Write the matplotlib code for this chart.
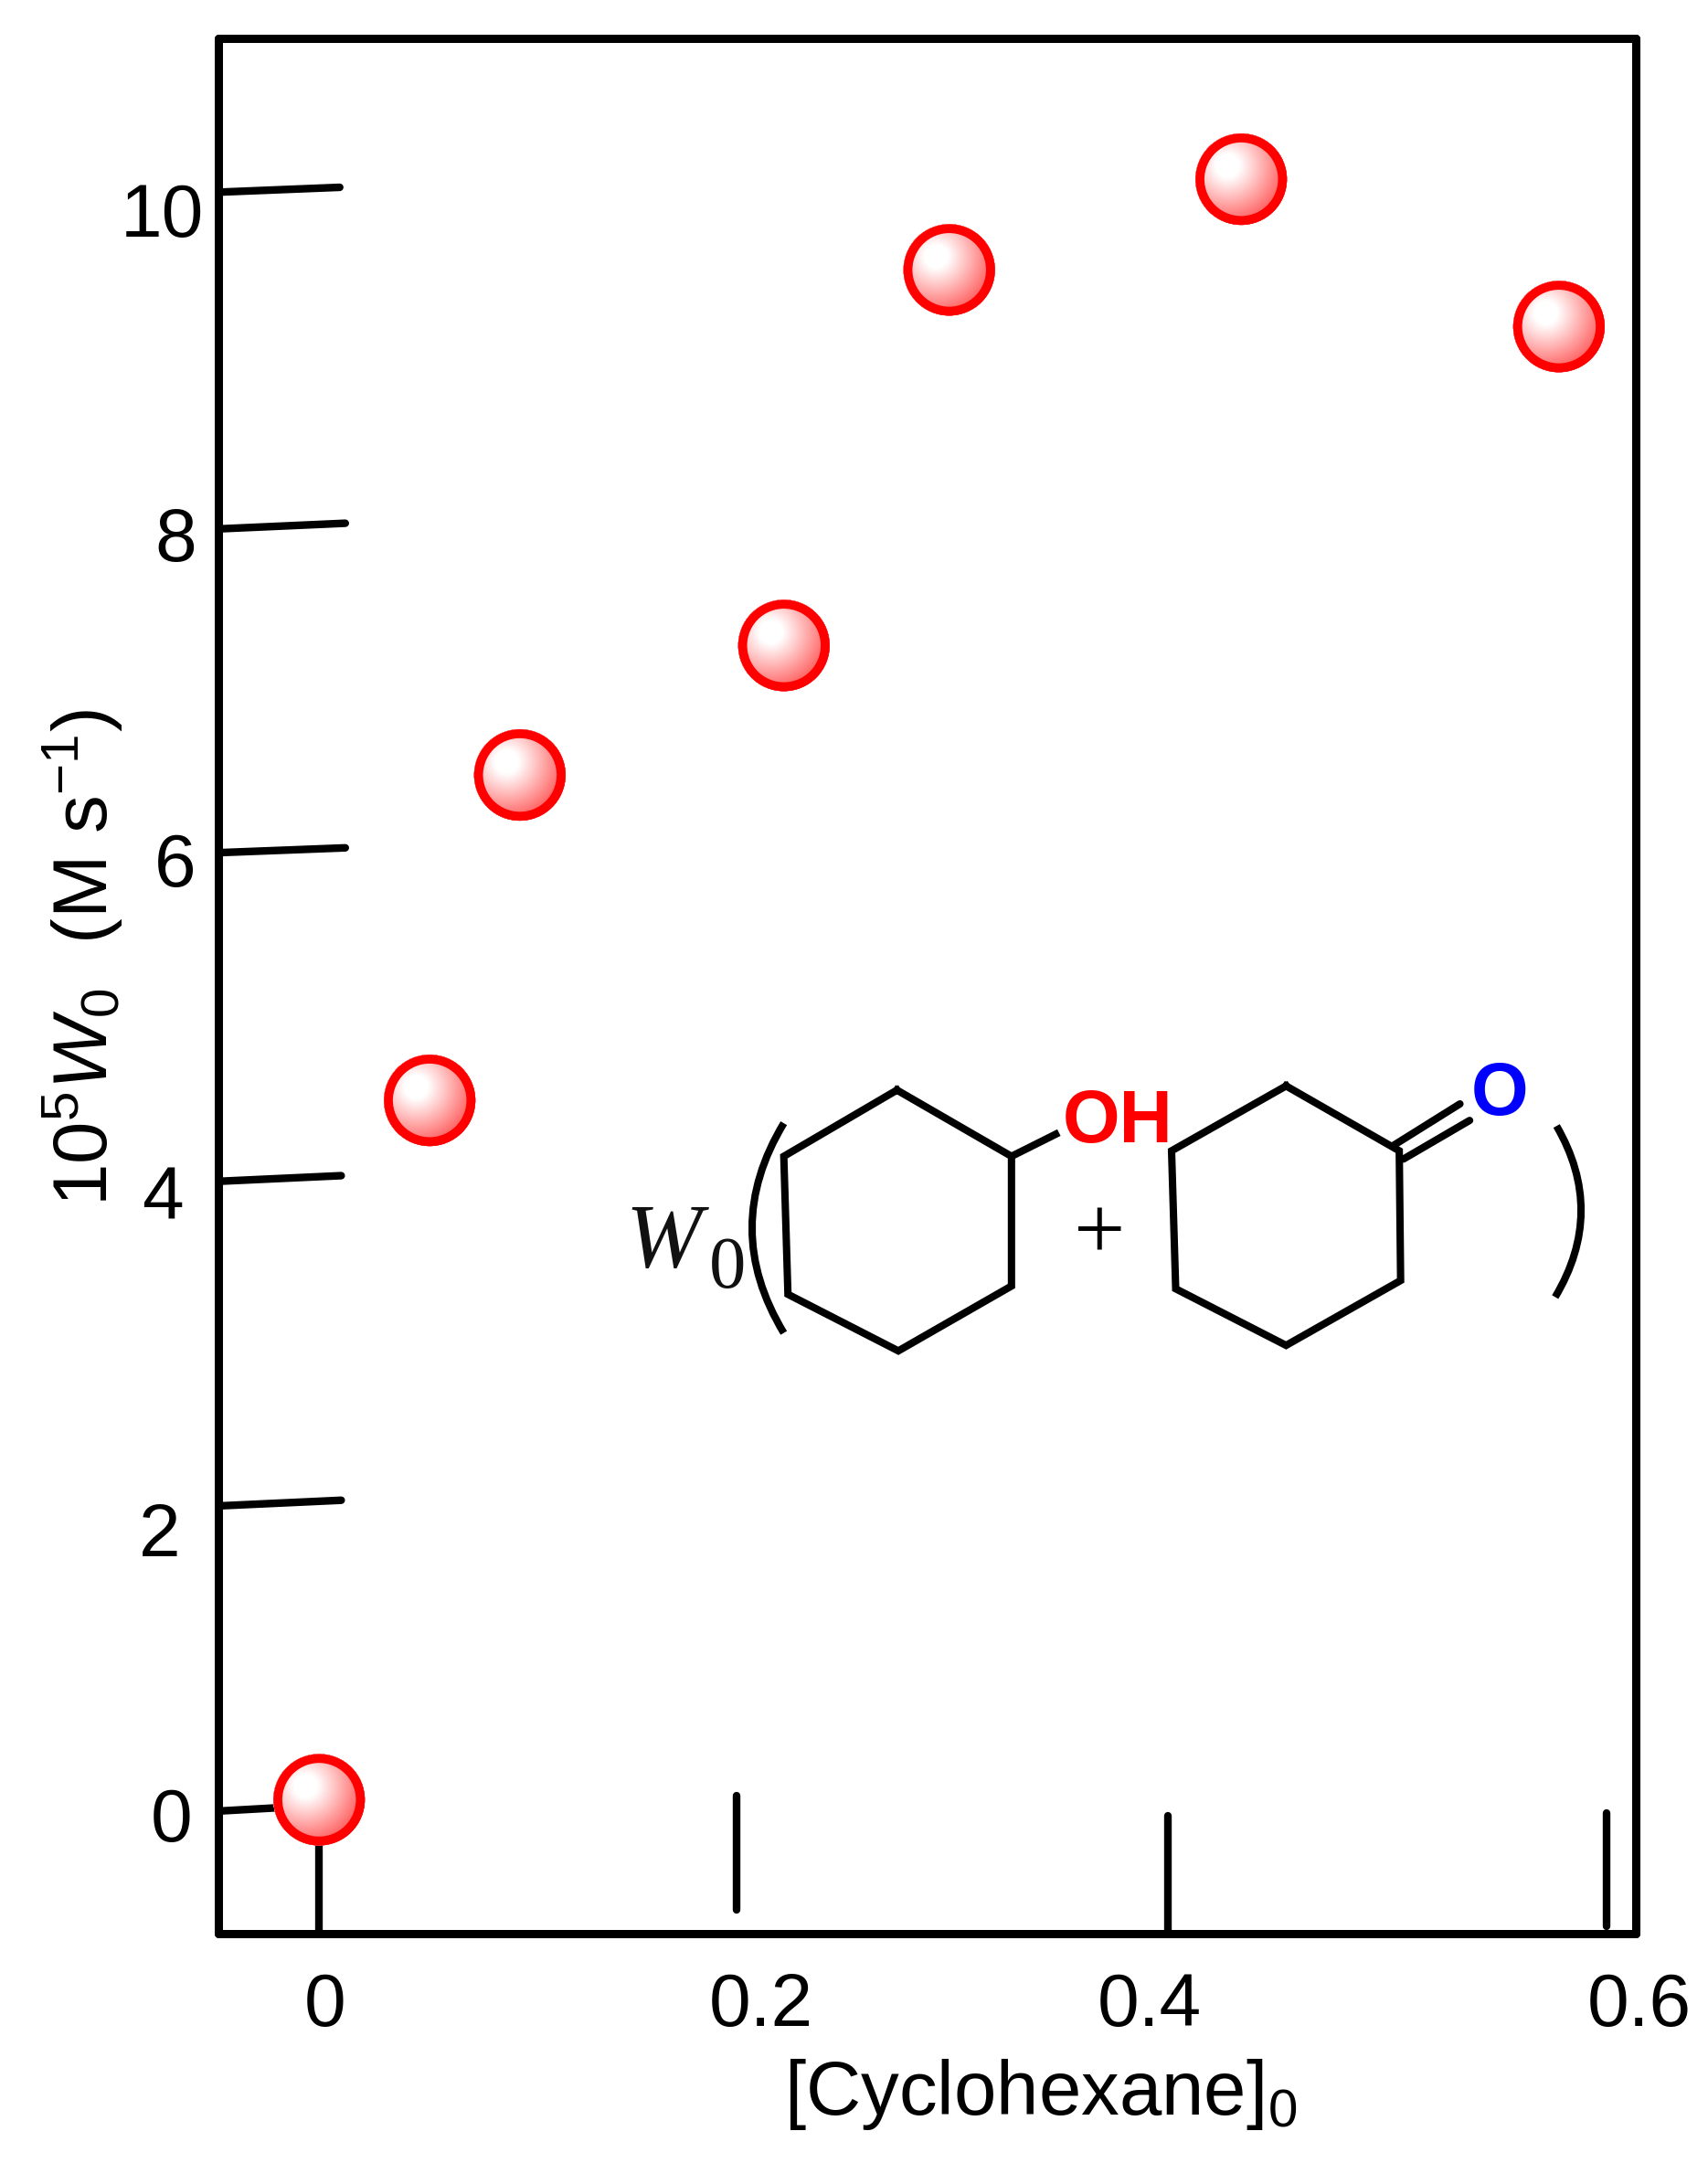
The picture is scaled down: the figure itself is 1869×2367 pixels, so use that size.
import numpy as np
import matplotlib
matplotlib.use('Agg')
import matplotlib.pyplot as plt
from matplotlib.transforms import ScaledTranslation, Affine2D
from matplotlib.path import Path
from matplotlib.patches import PathPatch

plt.rcParams['font.family'] = ['Liberation Sans', 'DejaVu Sans']
plt.rcParams['mathtext.fontset'] = 'custom'
plt.rcParams['mathtext.rm'] = 'Liberation Sans'
plt.rcParams['mathtext.it'] = 'Liberation Sans:italic'
plt.rcParams['mathtext.bf'] = 'Liberation Sans:bold'

# data
cyclohexane = [0.0, 0.0515, 0.0935, 0.2165, 0.2935, 0.4295, 0.5775]
w0 = [0.06, 4.38, 6.39, 7.19, 9.51, 10.07, 9.16]

# tick labels
xtick_labels = ['0', '0.2', '0.4', '0.6']
ytick_labels = ['0', '2', '4', '6', '8', '10']
ytick_label_pos = [-0.03, 1.73, 3.81, 5.87, 7.88, 9.88]

# hand-drawn tick marks (the original's are uneven and slanted)
xmark_pos = [0.0, 0.1943, 0.3955, 0.5997]
xmark_from = [-0.767, -0.62, -0.767, -0.72]
xmark_to = [0.0, 0.085, -0.04, -0.02]
xlabel_shift_in = [0.06, 0.27, -0.21, 0.36]  # labels sit off their marks in the original
ylabel_shift_in = [-0.08, -0.21, -0.17, -0.04, -0.03, 0.05]
ymark_start = [-0.01, 1.875, 3.88, 5.91, 7.91, 9.99]
ymark_end = [0.01, 1.91, 3.915, 5.94, 7.945, 10.02]
ymark_len = [0.027, 0.0572, 0.0572, 0.0591, 0.0591, 0.0565]

W, H = 1869, 2367
SC = 1.51
XLIM = (-0.0469, 0.6133)
YLIM = (-0.767, 10.94)
fig = plt.figure(figsize=(W / 100, H / 100), dpi=100, facecolor='white')
ax = fig.add_axes([239 / W, 1 - 2116 / H, (1790 - 239) / W, (2116 - 42) / H])
for s in ax.spines.values():
    s.set_linewidth(6.5)
    s.set_capstyle('round')
ax.tick_params(length=0, labelsize=59, pad=15)
ax.tick_params(axis='x', pad=30)
ax.set_xticks(xmark_pos, xtick_labels)
ax.set_yticks(ytick_label_pos, ytick_labels)
ax.set_xlim(*XLIM)
ax.set_ylim(*YLIM)
for lab, dx in zip(ax.get_xticklabels(), xlabel_shift_in):
    lab.set_transform(lab.get_transform() + ScaledTranslation(dx, 0, fig.dpi_scale_trans))
for lab, dx in zip(ax.get_yticklabels(), ylabel_shift_in):
    lab.set_transform(lab.get_transform() + ScaledTranslation(dx, 0, fig.dpi_scale_trans))
ax.set_xlabel('[Cyclohexane]$_{\\mathrm{0}}$', fontsize=60)
ax.xaxis.set_label_coords(0.580, -0.065)
ax.set_ylabel('$\\mathrm{10^{5}}W_{\\mathrm{0}}$  (M s$^{\\mathrm{-1}}$)', fontsize=60)
ax.yaxis.set_label_coords(-0.066, 0.515)

for x, a, b in zip(xmark_pos, xmark_from, xmark_to):
    ax.plot([x, x], [a, b], color='k', lw=6.0, solid_capstyle='round', zorder=2)
for a, b, l in zip(ymark_start, ymark_end, ymark_len):
    ax.plot([XLIM[0], XLIM[0] + l], [a, b], color='k', lw=6.0,
            solid_capstyle='round', zorder=2)

# shaded spheres: discs about an upper-left highlight, clipped to the sphere
R_pt = 36
n = 36
ax.set_xlim(*XLIM)
ax.set_ylim(*YLIM)
for px, py in zip(cyclohexane, w0):
    cx, cy = ax.transData.transform((px, py))
    clip_tr = Affine2D().scale(R_pt * fig.dpi / 72).translate(cx, cy)
    hl = 0.30 * R_pt / 72
    tr = ax.transData + ScaledTranslation(-hl, hl, fig.dpi_scale_trans)
    for i in range(n):
        d = 1.5 * (1 - i / (n - 1)) + 0.01
        g = float(np.clip(1 - (d - 0.28) * 0.62, 0, 1))
        sc = ax.scatter([px], [py], s=(2 * d * R_pt) ** 2, color=(1, g, g), linewidths=0,
                        transform=tr, zorder=5, clip_on=True)
        sc.set_clip_path(Path.unit_circle(), clip_tr)
ax.scatter(cyclohexane, w0, s=(2 * (R_pt - 3.5)) ** 2, facecolors='none', edgecolors='#ff0000',
           linewidths=7.0, zorder=6, clip_on=False)
ax.set_xlim(*XLIM)
ax.set_ylim(*YLIM)

# inset structure, in a full-figure overlay
ov = fig.add_axes([0, 0, 1, 1], facecolor='none')
ov.set_xlim(0, W / SC)
ov.set_ylim(H / SC, 0)
ov.axis('off')
LW = 5.8
hex1 = [(650, 790), (733, 838), (733, 932), (651, 979), (571, 938), (568, 838), (650, 790)]
hex2 = [(932, 787), (1014, 834), (1015, 928), (932, 975), (852, 934), (849, 834), (932, 787)]
for h in (hex1, hex2):
    xs, ys = zip(*h)
    ov.plot(xs, ys, color='k', lw=LW, solid_joinstyle='miter')
ov.plot([733, 765], [838, 822], color='k', lw=LW)
ov.plot([1010, 1058], [830, 800], color='k', lw=LW, solid_capstyle='round')
ov.plot([1017, 1065], [840, 812], color='k', lw=LW, solid_capstyle='round')
for p0, c, p1 in (((568, 814), (522, 890), (568, 966)), ((1128, 816), (1164, 878), (1127, 940))):
    ov.add_patch(PathPatch(Path([p0, c, p1], [Path.MOVETO, Path.CURVE3, Path.CURVE3]),
                           fill=False, lw=LW, ec='k'))
ov.text(810, 814, 'OH', color='#ff0000', fontsize=58, fontweight='bold', ha='center', va='center')
ov.text(1087, 794, 'O', color='#0000ff', fontsize=58, fontweight='bold', ha='center', va='center')
ov.text(481, 902, 'W', family='Liberation Serif', style='italic', fontsize=72, ha='center', va='center', color='#111111')
ov.text(527, 920, '0', family='Liberation Serif', fontsize=58, ha='center', va='center', color='#111111')
ov.text(797, 897, '+', family='Liberation Serif', fontsize=72, ha='center', va='center', color='k')

fig.savefig('out.png', dpi=100, facecolor='white')
